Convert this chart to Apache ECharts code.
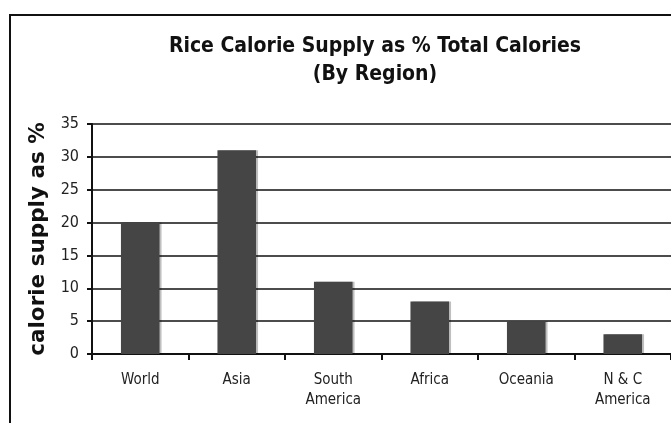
<!DOCTYPE html>
<html>
<head>
<meta charset="utf-8">
<script src="https://cdn.jsdelivr.net/npm/echarts@6/dist/echarts.min.js"></script>
<style>
  html, body { margin: 0; padding: 0; background: #fff; }
  #main { width: 671px; height: 423px; }
</style>
</head>
<body>
<div id="main"></div>
<script>
var regions = ['World', 'Asia', 'South\nAmerica', 'Africa', 'Oceania', 'N & C\nAmerica'];
var riceShare = [20, 31, 11, 8, 5, 3];

var chart = echarts.init(document.getElementById('main'));
var option = {
    backgroundColor: '#fff',
    animation: false,
    title: {
        text: 'Rice Calorie Supply as % Total Calories\n(By Region)',
        left: 370,
        top: 28,
        textAlign: 'center',
        textStyle: {
            fontFamily: 'DejaVu Sans Condensed',
            fontWeight: 'bold',
            fontSize: 21,
            lineHeight: 28,
            color: '#111'
        }
    },
    graphic: [{
        type: 'rect',
        shape: { x: 10, y: 15, width: 700, height: 450 },
        style: { fill: 'none', stroke: '#111', lineWidth: 2 },
        z: -1
    }],
    grid: {
        left: 92,
        top: 124,
        right: -3,
        bottom: 69
    },
    xAxis: {
        type: 'category',
        data: regions,
        axisLine: { lineStyle: { color: '#111', width: 2 } },
        axisTick: { show: true, inside: false, length: 6, lineStyle: { color: '#111', width: 2 } },
        axisLabel: {
            interval: 0,
            margin: 16,
            fontFamily: 'DejaVu Sans Condensed',
            fontSize: 15,
            lineHeight: 20,
            color: '#222'
        }
    },
    yAxis: {
        type: 'value',
        min: 0,
        max: 35,
        interval: 5,
        name: 'calorie supply as %',
        nameLocation: 'middle',
        nameRotate: 90,
        nameGap: 42,
        nameTextStyle: {
            fontFamily: 'DejaVu Sans',
            fontWeight: 'bold',
            fontSize: 21.5,
            color: '#111'
        },
        axisLine: { show: true, lineStyle: { color: '#111', width: 2 } },
        axisTick: { show: true, length: 5, lineStyle: { color: '#111', width: 2 } },
        axisLabel: {
            margin: 13,
            fontFamily: 'DejaVu Sans Condensed',
            fontSize: 16,
            color: '#222'
        },
        splitLine: { lineStyle: { color: '#111', width: 1.5 } }
    },
    series: [{
        type: 'bar',
        data: riceShare,
        barWidth: '40%',
        itemStyle: {
            color: '#454545',
            shadowColor: 'rgba(0,0,0,0.25)',
            shadowOffsetX: 2,
            shadowBlur: 0
        }
    }]
};
chart.setOption(option);
</script>
</body>
</html>
